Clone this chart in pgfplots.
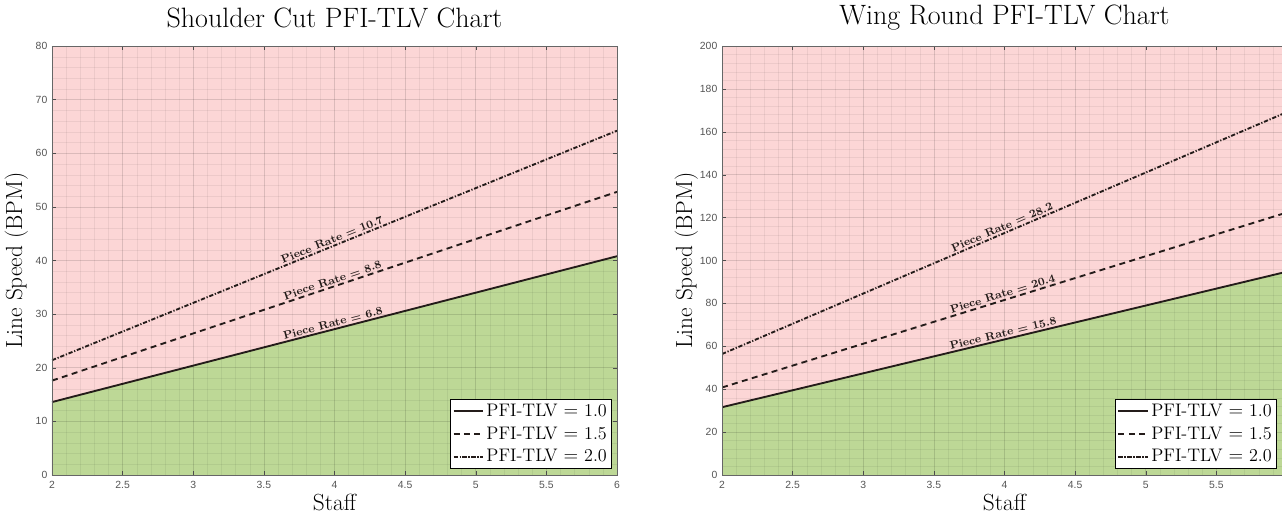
\documentclass[border=0pt]{standalone}
\usepackage{fontspec}
\newfontfamily\tickfont{Liberation Sans}
\usepackage{pgfplots}
\pgfplotsset{compat=1.18}

\definecolor{zonered}{RGB}{252,214,214}
\definecolor{zonegreen}{RGB}{189,216,150}
\definecolor{lncol}{RGB}{36,28,26}
\definecolor{tickgray}{RGB}{85,85,85}

\tikzset{
  prlabel/.style={pos=0.5, sloped, above, inner sep=1.1pt,
    font=\fontsize{8.4}{9}\selectfont\bfseries, text=lncol},
}

\pgfplotsset{
  pfi/.style={
    scale only axis,
    width=423.75pt, height=321.75pt,
    xmin=2, xmax=6, ymin=0,
    xtick={2,2.5,...,6},
    minor x tick num=4, minor y tick num=4,
    grid=both,
    major grid style={black, opacity=0.13, line width=0.4pt},
    minor grid style={black, opacity=0.06, line width=0.3pt},
    axis on top,
    tick align=inside,
    major tick length=3pt, minor tick length=0pt,
    tick style={black!70},
    axis line style={black!60, line width=0.6pt},
    /pgf/number format/assume math mode=true,
    ticklabel style={font=\tickfont\fontsize{7.8}{8}\selectfont, text=tickgray},
    xticklabel style={yshift=-1.5pt},
    title style={font=\fontsize{21}{24}\selectfont, at={(axis description cs:0.5,1.047)}, anchor=center},
    xlabel={Staff}, ylabel={Line Speed (BPM)},
    label style={font=\fontsize{17.5}{20}\selectfont},
    xlabel style={at={(axis description cs:0.5,-0.064)}, anchor=center},
    ylabel style={at={(axis description cs:-0.063,0.5)}, anchor=center},
    legend style={at={(rel axis cs:0.991,0.014)}, anchor=south east,
      font=\fontsize{13.6}{15}\selectfont, draw=black, line width=0.6pt,
      fill=white, inner sep=1.5pt, row sep=2.2pt},
    legend cell align=left,
    legend image code/.code={\draw[#1] (0pt,0pt) -- (22pt,0pt);},
  },
  tlv1/.style={lncol, line width=1.4pt},
  tlv15/.style={lncol, line width=1.4pt, dash pattern=on 4.5pt off 3.3pt},
  tlv2/.style={lncol, line width=1.4pt, dash pattern=on 3.2pt off 1.3pt on 0.9pt off 1.3pt},
}

\begin{document}
\begin{tikzpicture}
% left panel
\begin{axis}[pfi, at={(39pt,34.5pt)}, anchor=south west,
    ymax=80, ytick={0,10,...,80},
    title={Shoulder Cut PFI-TLV Chart}]
\addplot[forget plot, draw=none, fill=zonered] coordinates {(2,80) (6,80)} \closedcycle;
\addplot[forget plot, draw=none, fill=zonegreen] coordinates {(2,13.6) (6,40.8)} \closedcycle;
\addplot[tlv1] coordinates {(2,13.6) (6,40.8)} node[prlabel] {Piece Rate = 6.8};
\addlegendentry{PFI-TLV $=$ 1.0}
\addplot[tlv15] coordinates {(2,17.6) (6,52.8)} node[prlabel] {Piece Rate = 8.8};
\addlegendentry{PFI-TLV $=$ 1.5}
\addplot[tlv2] coordinates {(2,21.4) (6,64.2)} node[prlabel] {Piece Rate = 10.7};
\addlegendentry{PFI-TLV $=$ 2.0}
\end{axis}
% right panel (its right edge runs past the picture, as in the reference)
\begin{axis}[pfi, at={(541.5pt,34.5pt)}, anchor=south west,
    ymax=200, ytick={0,20,...,200},
    xticklabels={2,2.5,3,3.5,4,4.5,5,5.5,{}},
    legend style={at={(rel axis cs:0.982,0.014)}},
    title={Wing Round PFI-TLV Chart}]
\addplot[forget plot, draw=none, fill=zonered] coordinates {(2,200) (6,200)} \closedcycle;
\addplot[forget plot, draw=none, fill=zonegreen] coordinates {(2,31.6) (6,94.8)} \closedcycle;
\addplot[tlv1] coordinates {(2,31.6) (6,94.8)} node[prlabel] {Piece Rate = 15.8};
\addlegendentry{PFI-TLV $=$ 1.0}
\addplot[tlv15] coordinates {(2,40.8) (6,122.4)} node[prlabel] {Piece Rate = 20.4};
\addlegendentry{PFI-TLV $=$ 1.5}
\addplot[tlv2] coordinates {(2,56.4) (6,169.2)} node[prlabel] {Piece Rate = 28.2};
\addlegendentry{PFI-TLV $=$ 2.0}
\end{axis}
\pgfresetboundingbox
\useasboundingbox (0,0) rectangle (961.5pt,390.75pt);
\end{tikzpicture}
\end{document}
